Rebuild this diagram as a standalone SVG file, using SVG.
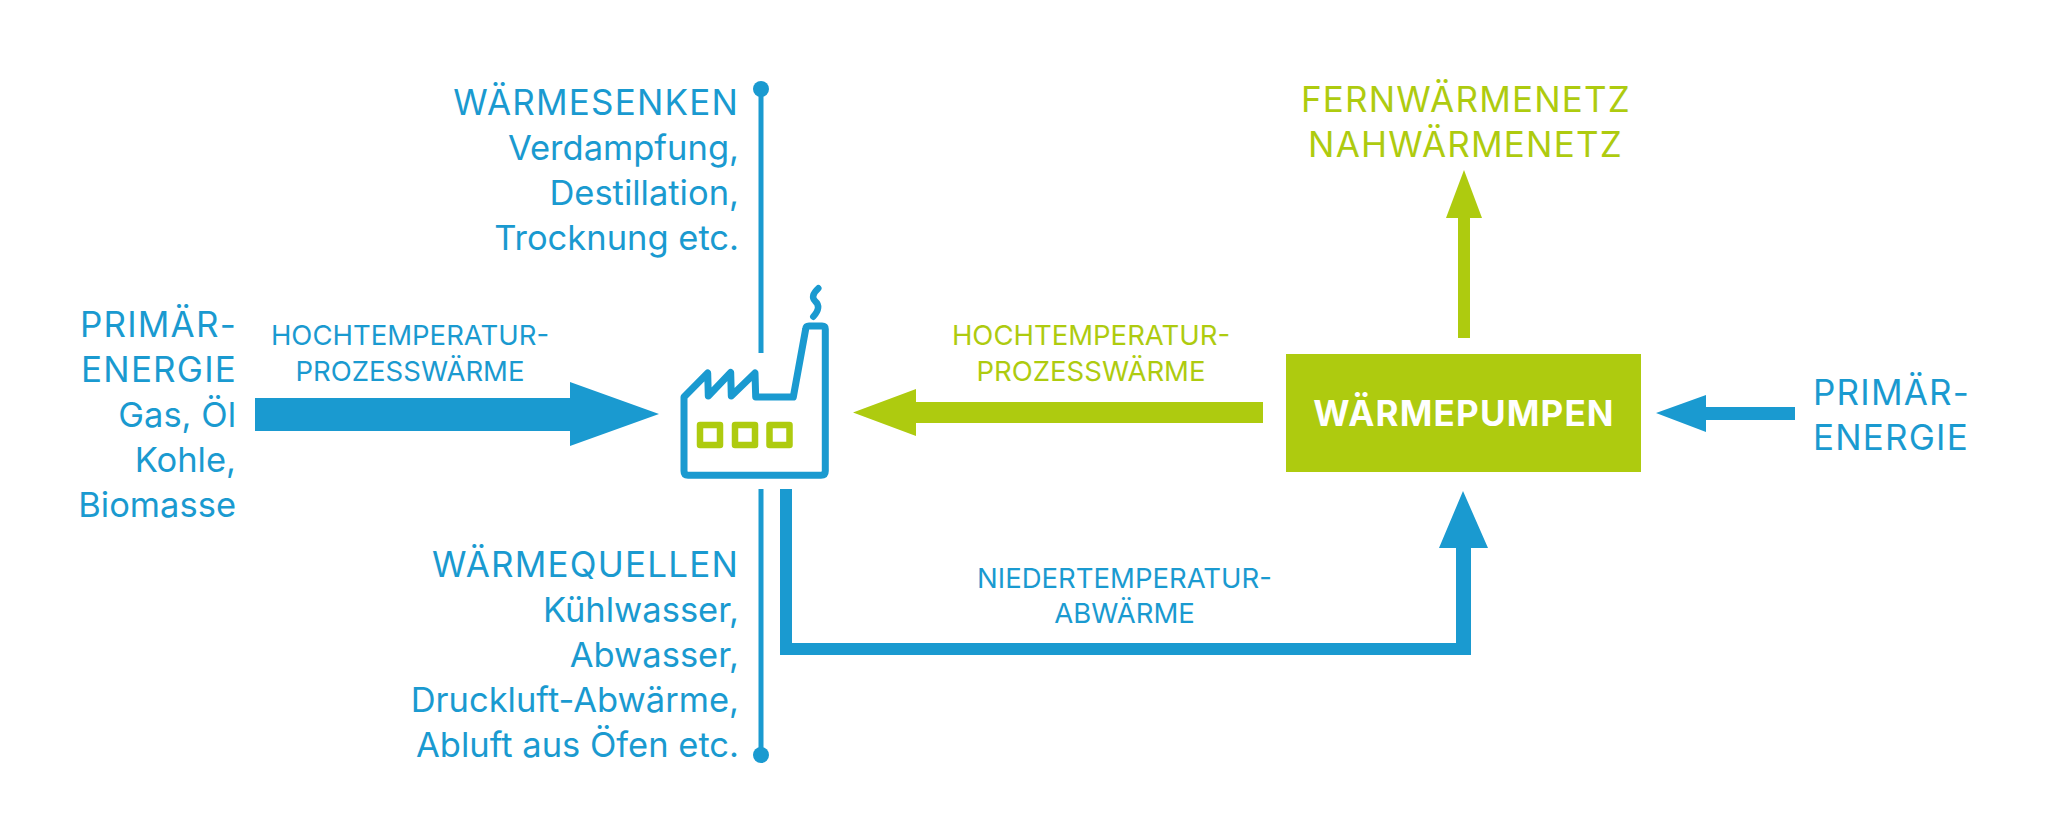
<svg xmlns="http://www.w3.org/2000/svg" width="2046" height="835" viewBox="0 0 2046 835">
<style>
text{font-family:"Inter","Liberation Sans",Arial,sans-serif;font-size:34.5px;font-weight:400;fill:#1a9ad0}
.e{text-anchor:end}.m{text-anchor:middle}.s{font-size:27.5px}.g{fill:#aecb0f}.c{font-size:35px;letter-spacing:1.2px}
.b{fill:#1a9ad0}.gf{fill:#aecb0f}
.l{stroke:#1a9ad0;stroke-width:5;fill:none}
</style>
<rect width="2046" height="835" fill="#fff"/>
<g id="connectors">
<polygon class="b" points="255,398 570,398 570,382 659,414 570,446 570,431 255,431" id="c-primary-factory"/>
<polygon class="gf" points="1263,402 916,402 916,389 853,412.5 916,436 916,423 1263,423" id="c-pumps-factory"/>
<polygon class="gf" points="1458,338 1458,218 1446,218 1464,170 1482,218 1470,218 1470,338" id="c-pumps-net"/>
<polygon class="b" points="1795,407 1706,407 1706,395 1656,413 1706,432 1706,420 1795,420" id="c-energy-pumps"/>
<polygon class="b" points="780,489 792,489 792,643 1456,643 1456,548 1439,548 1463,491 1488,548 1471,548 1471,655 780,655" id="c-factory-pumps"/>
<path class="l" d="M761,89V353"/>
<path class="l" d="M761,489V755"/>
<circle class="b" cx="761" cy="89" r="8"/>
<circle class="b" cx="761" cy="755" r="8"/>
</g>
<g id="factory">
<path d="M684,397 L707.7,373 L708.3,396 L730.7,372.5 L731.3,396 L755,373 L755.7,397 L793.3,397 L805.7,329 Q806,326 809,326 L822,326 Q825.3,326 825.3,329 L825.3,471 Q825.3,475.3 821,475.3 L688,475.3 Q684,475.3 684,471 Z" fill="none" stroke="#1a9ad0" stroke-width="7" stroke-linejoin="round"/>
<path d="M818.3,288.3 Q810,296 815,301 Q822,307 813.3,316.7" fill="none" stroke="#1a9ad0" stroke-width="6.5" stroke-linecap="round"/>
<g fill="none" stroke="#aecb0f" stroke-width="6.5" stroke-linejoin="round">
<rect x="700" y="425" width="20" height="20"/>
<rect x="735" y="425" width="20" height="20"/>
<rect x="769.5" y="425" width="20" height="20"/>
</g>
</g>
<g id="waermepumpen">
<rect x="1286" y="354" width="355" height="118" class="gf"/>
<text x="1464" y="426" class="m c" style="font-weight:700;fill:#fff">WÄRMEPUMPEN</text>
</g>
<g id="primaerenergie-links">
<text x="237" y="337" class="e c">PRIMÄR-</text>
<text x="237" y="382" class="e c">ENERGIE</text>
<text x="236" y="427" class="e">Gas, Öl</text>
<text x="236" y="472" class="e">Kohle,</text>
<text x="236" y="517" class="e">Biomasse</text>
</g>
<g id="label-hochtemp-links">
<text x="410" y="345" class="m s">HOCHTEMPERATUR-</text>
<text x="410" y="381" class="m s">PROZESSWÄRME</text>
</g>
<g id="waermesenken">
<text x="739" y="115" class="e c">WÄRMESENKEN</text>
<text x="739" y="160" class="e">Verdampfung,</text>
<text x="739" y="205" class="e">Destillation,</text>
<text x="739" y="250" class="e">Trocknung etc.</text>
</g>
<g id="waermequellen">
<text x="739" y="577" class="e c">WÄRMEQUELLEN</text>
<text x="739" y="622" class="e">Kühlwasser,</text>
<text x="739" y="667" class="e">Abwasser,</text>
<text x="739" y="712" class="e">Druckluft-Abwärme,</text>
<text x="739" y="757" class="e">Abluft aus Öfen etc.</text>
</g>
<g id="label-hochtemp-rechts">
<text x="1091" y="345" class="m s g">HOCHTEMPERATUR-</text>
<text x="1091" y="381" class="m s g">PROZESSWÄRME</text>
</g>
<g id="label-niedertemp">
<text x="1124.5" y="588" class="m s">NIEDERTEMPERATUR-</text>
<text x="1124.5" y="623" class="m s">ABWÄRME</text>
</g>
<g id="netze">
<text x="1466" y="112" class="m g c">FERNWÄRMENETZ</text>
<text x="1465.5" y="157" class="m g c">NAHWÄRMENETZ</text>
</g>
<g id="primaerenergie-rechts">
<text x="1813" y="405" class="c">PRIMÄR-</text>
<text x="1813" y="449.5" class="c">ENERGIE</text>
</g>
</svg>
